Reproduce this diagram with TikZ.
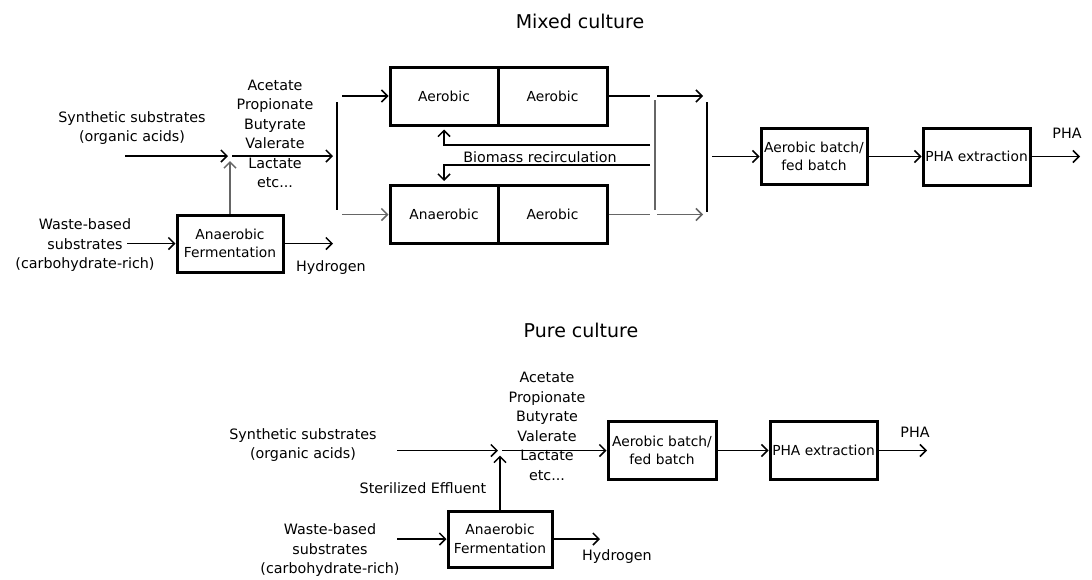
\documentclass[tikz,border=0pt]{standalone}
\usepackage{fontspec}
\setmainfont{DejaVu Sans}
\usetikzlibrary{arrows.meta}

\begin{document}
\begin{tikzpicture}[x=1pt,y=-1pt,
        txt/.style={align=center,inner sep=0pt,font=\fontsize{14.3}{19.5}\selectfont},
        ttl/.style={inner sep=0pt,font=\fontsize{19}{23}\selectfont},
        box/.style={draw,line width=3pt,align=center,inner sep=0pt,font=\fontsize{13.8}{18.5}\selectfont},
        arr/.style={line width=1.5pt,-{Straight Barb[length=6pt,width=12pt]}},
        ln/.style={line width=1.5pt},
        gr/.style={draw=black!60}]
    \useasboundingbox (0,0) rectangle (1092,579);

    % Mixed culture
    \node[ttl] (ttlA) at (580,21) {Mixed culture};
    \node[txt] (synA) at (132,128) {Synthetic substrates\\(organic acids)};
    \node[txt] (acidA) at (275,134) {Acetate\\Propionate\\Butyrate\\Valerate\\Lactate\\etc...};
    \node[txt] (wasteA) at (85,245.5) {Waste-based\\substrates\\(carbohydrate-rich)};
    \node[box,minimum width=106,minimum height=57] (ferA) at (230,243.5) {Anaerobic\\Fermentation};
    \node[txt] (hydA) at (331,268) {Hydrogen};
    \node[box,minimum width=108,minimum height=58] (aerA1) at (444,96) {Aerobic};
    \node[box,minimum width=109,minimum height=58] (aerA2) at (552.5,96) {Aerobic};
    \node[box,minimum width=108,minimum height=58] (anaA) at (444,214.5) {Anaerobic};
    \node[box,minimum width=109,minimum height=58] (aerA3) at (552.5,214.5) {Aerobic};
    \node[txt] (recA) at (540,157) {Biomass recirculation};
    \node[box,minimum width=106,minimum height=56] (batchA) at (814,156.5) {Aerobic batch/\\fed batch};
    \node[box,minimum width=107,minimum height=57] (extrA) at (976.5,156.5) {PHA extraction};
    \node[txt] (phaA) at (1067,133) {PHA};

    \coordinate (synAend) at (125,156);
    \coordinate (jA) at (230,156);
    \coordinate (wasteAend) at (127,243.5);
    \coordinate (hydAend) at (333,243.5);
    \coordinate (barA1t) at (337,102);
    \coordinate (barA1b) at (337,210);
    \coordinate (barA2t) at (655,100);
    \coordinate (barA2b) at (655,210);
    \coordinate (barA3t) at (707,102);
    \coordinate (barA3b) at (707,212);
    \coordinate (recA1) at (650,145);
    \coordinate (recA2) at (650,165);
    \coordinate (phaAend) at (1080,156.5);

    \draw[arr,shorten >=2] (synAend) -- (jA);
    \draw[arr,gr,shorten >=5] (ferA.north) -- (jA);
    \draw[arr,shorten <=2,shorten >=4] (jA) -- (jA -| barA1t);
    \draw[arr] (wasteAend) -- (ferA.west);
    \draw[arr] (ferA.east) -- (hydAend);
    \draw[ln] (barA1t) -- (barA1b);
    \draw[arr] ([xshift=5]barA1t |- aerA1.west) -- (aerA1.west);
    \draw[arr,gr] ([xshift=5]barA1b |- anaA.west) -- (anaA.west);
    \draw[ln] (aerA2.east) -- ([xshift=-5]barA2t |- aerA2.east);
    \draw[arr] ([xshift=2]barA2t |- aerA2.east) -- ([xshift=-4]barA3t |- aerA2.east);
    \draw[ln,gr] (aerA3.east) -- ([xshift=-5]barA2t |- aerA3.east);
    \draw[arr,gr] ([xshift=2]barA2t |- aerA3.east) -- ([xshift=-4]barA3t |- aerA3.east);
    \draw[ln,gr] (barA2t) -- (barA2b);
    \draw[arr,shorten >=3] (recA1) -| (aerA1.south);
    \draw[arr,shorten >=3] (recA2) -| (anaA.north);
    \draw[ln] (barA3t) -- (barA3b);
    \draw[arr] ([xshift=5]barA3t |- batchA.west) -- (batchA.west);
    \draw[arr] (batchA) -- (extrA);
    \draw[arr] (extrA.east) -- (phaAend);

    % Pure culture
    \node[ttl] (ttlB) at (581,330) {Pure culture};
    \node[txt] (synB) at (303,445) {Synthetic substrates\\(organic acids)};
    \node[txt] (acidB) at (547,426.5) {Acetate\\Propionate\\Butyrate\\Valerate\\Lactate\\etc...};
    \node[txt] (sterB) at (423,488) {Sterilized Effluent};
    \node[txt] (wasteB) at (330,550.5) {Waste-based\\substrates\\(carbohydrate-rich)};
    \node[box,minimum width=104,minimum height=56] (ferB) at (500,539) {Anaerobic\\Fermentation};
    \node[txt] (hydB) at (617,557) {Hydrogen};
    \node[box,minimum width=108,minimum height=58] (batchB) at (662,450.5) {Aerobic batch/\\fed batch};
    \node[box,minimum width=107,minimum height=58] (extrB) at (823.5,450.5) {PHA extraction};
    \node[txt] (phaB) at (915,432) {PHA};

    \coordinate (synBend) at (397,450.5);
    \coordinate (jB) at (500,450.5);
    \coordinate (wasteBend) at (397,539);
    \coordinate (hydBend) at (600,539);
    \coordinate (phaBend) at (927,450.5);

    \draw[arr,shorten >=2] (synBend) -- (jB);
    \draw[arr,shorten >=5] (ferB.north) -- (jB);
    \draw[arr,shorten <=2] (jB) -- (batchB.west);
    \draw[arr] (wasteBend) -- (ferB.west);
    \draw[arr] (ferB.east) -- (hydBend);
    \draw[arr] (batchB) -- (extrB);
    \draw[arr] (extrB.east) -- (phaBend);
\end{tikzpicture}
\end{document}
